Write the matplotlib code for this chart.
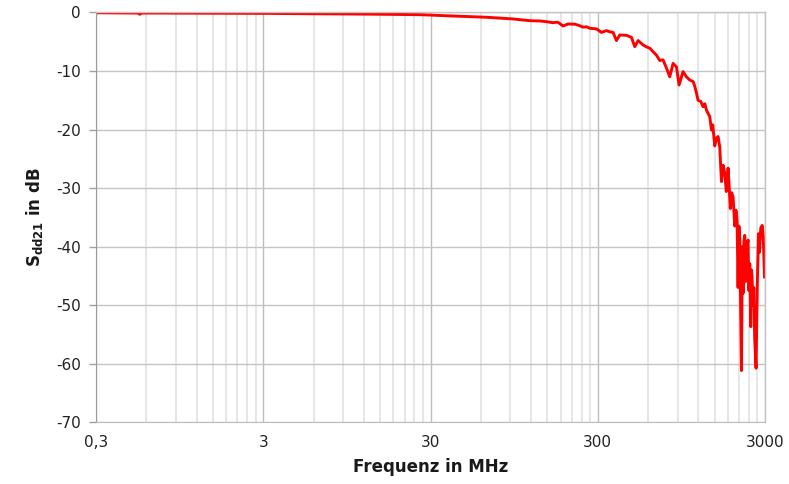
import matplotlib
matplotlib.use("Agg")
import matplotlib.pyplot as plt
from matplotlib.ticker import FixedLocator, NullFormatter

plt.rcParams['axes.unicode_minus'] = False

# frequenz in MHz und S_dd21 in dB
freq_mhz = [0.3, 0.533, 0.548, 0.563, 0.722, 1.25, 3.0, 4.96, 9.21, 14.9,
            25.9, 40.7, 65.1, 93.1, 117.6, 135, 148, 161.4, 172.9, 186,
            199.3, 218.6, 230.9, 245, 257.8, 268.7, 294.6, 315.6, 338.1, 353.8,
            370.3, 388, 406, 445.4, 477, 499.4, 522.6, 559.8, 589, 613.8,
            642.3, 673.2, 704.4, 737, 772.5, 808.3, 845.8, 886.5, 918.7, 970.7,
            1017, 1065, 1114, 1140, 1168, 1193, 1238, 1278, 1310, 1340, 1402, 1435,
            1461, 1502, 1538, 1572, 1609, 1647, 1684, 1724, 1760, 1804,
            1830, 1859, 1895, 1932, 1978, 2010, 2042, 2070, 2095, 2119, 2169, 2195,
            2218, 2245, 2270, 2290, 2324, 2350, 2376, 2400, 2432, 2466, 2490,
            2510, 2540, 2569, 2605, 2652, 2697, 2741, 2780, 2830, 2889, 2929, 2978]
sdd21_db = [-0.05, -0.1, -0.3, -0.1, -0.1, -0.12, -0.15, -0.2, -0.25, -0.3,
            -0.37, -0.6, -0.82, -1.1, -1.4, -1.45, -1.57, -1.74, -1.65, -2.3,
            -1.97, -2.0, -2.2, -2.5, -2.45, -2.7, -2.8, -3.4, -3.1, -3.3,
            -3.4, -4.8, -3.85, -3.9, -4.25, -5.85, -4.8, -5.55, -5.9, -6.1,
            -6.7, -7.3, -8.2, -8.1, -9.5, -11.0, -8.7, -9.3, -12.4, -10.1,
            -11.0, -11.55, -11.8, -12.6, -13.8, -15.0, -15.2, -16.1, -15.6, -16.7, -17.8, -20.1,
            -19.2, -22.8, -21.5, -21.2, -23.0, -28.9, -26.1, -27.5, -30.6, -26.6,
            -29.5, -33.5, -30.8, -31.5, -36.5, -33.8, -35.5, -47.0, -36.5, -38.5, -61.2, -40.0,
            -48.0, -39.0, -38.1, -46.0, -43.5, -39.5, -38.9, -47.5, -42.9, -53.7, -44.0,
            -45.2, -50.0, -47.0, -56.0, -60.8, -46.9, -37.8, -41.0, -36.8, -36.4, -38.4, -45.2]

major_x = [0.3, 3, 30, 300, 3000]
major_x_labels = ["0,3", "3", "30", "300", "3000"]
minor_x = [d * k for d in [0.3, 3, 30, 300] for k in range(2, 10)]
y_ticks = [0, -10, -20, -30, -40, -50, -60, -70]

fig = plt.figure(figsize=(7.89, 4.84), dpi=100)
ax = fig.add_axes([0.1217, 0.128, 0.8479, 0.8462])

ax.plot(freq_mhz, sdd21_db, color='#ff0000', linewidth=2.1, solid_joinstyle='round')

ax.set_xscale('log')
ax.set_xlim(0.3, 3000)
ax.set_ylim(-70, 0)

ax.xaxis.set_major_locator(FixedLocator(major_x))
ax.xaxis.set_minor_locator(FixedLocator(minor_x))
ax.xaxis.set_minor_formatter(NullFormatter())
ax.set_xticks(major_x, major_x_labels)
ax.set_yticks(y_ticks, [str(v) for v in y_ticks])

ax.grid(which='major', axis='x', color='#bdbdbd', linewidth=1.0)
ax.grid(which='minor', axis='x', color='#e6e6e6', linewidth=1.4)
ax.grid(which='major', axis='y', color='#c4c4c4', linewidth=1.0)
ax.set_axisbelow(True)

for side in ['top', 'right']:
    ax.spines[side].set_color('#c4c4c4')
    ax.spines[side].set_linewidth(1.0)
ax.spines['left'].set_color('#9a9a9a')
ax.spines['bottom'].set_color('#bdbdbd')

ax.tick_params(axis='x', which='both', length=0, pad=9, labelsize=11, labelcolor='#222222')
ax.tick_params(axis='y', length=5, width=1, color='#a0a0a0', pad=6, labelsize=11,
               labelcolor='#222222')

ax.set_xlabel('Frequenz in MHz', fontsize=12, fontweight='bold', color='#1a1a1a', labelpad=6)
ax.set_ylabel(r'S$_{\mathregular{dd21}}$ in dB', fontsize=12, fontweight='bold',
              color='#1a1a1a', labelpad=8)

fig.savefig('out.png', dpi=100)
